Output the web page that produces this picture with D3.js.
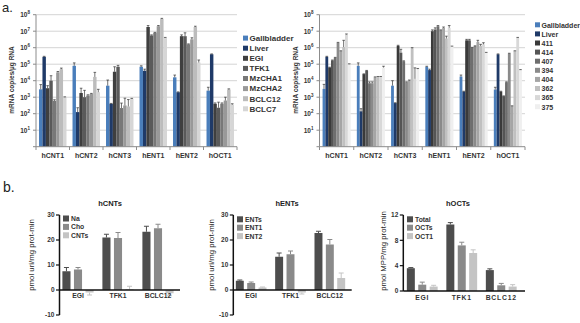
<!DOCTYPE html>
<html><head><meta charset="utf-8">
<script src="https://cdn.jsdelivr.net/npm/d3@7"></script>
<style>body{margin:0;background:#fff} svg{display:block;font-family:"Liberation Sans",Arial,sans-serif}</style>
</head><body><svg id="c" width="580" height="323"></svg>
<script>
// ---------- Panel a data ----------
const catsA = ["hCNT1","hCNT2","hCNT3","hENT1","hENT2","hOCT1"];
const decadeTicks = [1,10,100,1e3,1e4,1e5,1e6,1e7,1e8];

const seriesA1 = ["Gallbladder","Liver","EGI","TFK1","MzCHA1","MzCHA2","BCLC12","BCLC7"];
const colorsA1 = ["#4a7ebb","#1f3a68","#3f3f3f","#5a5a5a","#787878","#999999","#bcbcbc","#d6d6d6"];
const gallbladderA1 = [3000, 8e4, 5e3, 7e4, 1.6e4, 2.5e3];
const liverA1 = [2.8e5, 125, 400, 4e4, 2e3, 4e5];
const egiA1 = [3.5e3, 1.8e3, 3.5e4, 1.8e7, 5e6, 400];
const tfk1A1 = [1e4, 1e3, 7e4, 5.5e6, 5e6, 230];
const mzcha1A1 = [600, 1.26e3, 220, 8e6, 1.6e6, 400];
const mzcha2A1 = [3.2e4, 1.6e3, 316, 2e7, 3.2e6, 630];
const bclc12A1 = [5e4, 1.7e4, 275, 5.5e7, 1.8e7, 2.9e3];
const bclc7A1 = [1e3, 2e3, 800, 4e6, 1.26e5, 350];
const valuesA1 = [gallbladderA1, liverA1, egiA1, tfk1A1, mzcha1A1, mzcha2A1, bclc12A1, bclc7A1];
const errorsA1 = [
  [5.8e3, 1.2e5, 1.1e4, 8e4, 2.2e4, 4e3],
  [3e5, 230, 420, 5e4, 2.1e3, 4.2e5],
  [5e3, 3.5e3, 7e4, 2.2e7, 6e6, 450],
  [2e4, 2.6e3, 8.5e4, 6e6, 8e6, 500],
  [700, 1.4e3, 440, 8.5e6, 1.7e6, 450],
  [3.6e4, 1.7e3, 870, 2.2e7, 4e6, 1000],
  [5.8e4, 3.2e4, 720, 6e7, 2e7, 3.2e3],
  [1.05e3, 3e3, 850, 4.2e6, 1.8e5, 400]
];

const seriesA2 = ["Gallbladder","Liver","411","414","407","394","404","362","365","375"];
const colorsA2 = ["#4a7ebb","#1f3a68","#3a3a3a","#555555","#6e6e6e","#8a8a8a","#a5a5a5","#c0c0c0","#d8d8d8","#efefef"];
const valuesA2 = [
  [3.2e3, 8e4, 5e3, 7e4, 1.8e4, 2.9e3],
  [2.8e5, 140, 440, 4.4e4, 2.2e3, 4e5],
  [6.3e4, 2.5e4, 1.3e6, 1e7, 2.8e6, 2.2e3],
  [1.7e5, 4e4, 5e5, 1.26e7, 2.8e6, 1.15e3],
  [2.5e5, 7e3, 1.5e5, 2e7, 1e6, 8e3],
  [2e6, 7e3, 8e3, 1.15e7, 1.26e6, 4.4e5],
  [6.3e5, 1.6e4, 1e4, 1.6e7, 2.2e6, 290],
  [1.1e6, 1.7e4, 9e5, 3.6e6, 1.26e6, 6.3e5],
  [6.3e6, 1.7e4, 1.3e4, 1.6e7, 1.6e6, 4e6],
  [1e5, 6.3e4, 5e4, 1.2e6, 5e5, 4.5e4]
];
const errorsA2 = [
  [6e3, 1.2e5, 1e4, 7.5e4, 2.2e4, 4e3],
  [3e5, 200, 460, 5e4, 2.3e3, 4.2e5],
  [6.6e4, 2.6e4, 1.4e6, 1.2e7, 3.2e6, 2.3e3],
  [1.8e5, 4.2e4, 8e5, 1.6e7, 3.2e6, 1.2e3],
  [2.6e5, 8.5e3, 1.6e5, 2.2e7, 1.05e6, 8.5e3],
  [2.1e6, 8.5e3, 8.5e3, 1.2e7, 1.3e6, 4.6e5],
  [6.5e5, 1.7e4, 1.1e4, 1.8e7, 2.8e6, 300],
  [2.8e6, 1.8e4, 1e6, 5e6, 1.6e6, 6.5e5],
  [6.8e6, 1.8e4, 6e4, 2.2e7, 2e6, 4.2e6],
  [1.05e5, 7.5e4, 5.5e4, 1.25e6, 5.2e5, 4.7e4]
];

// ---------- Panel b data ----------
const catsB = ["EGI","TFK1","BCLC12"];
const colorsB = ["#4d4d4d","#8a8a8a","#c4c4c4"];
const seriesCNT = ["Na","Cho","CNTs"];
const valCNT = [[7.5,21,23.3],[8.2,20.8,24.7],[-1,0.3,-1.3]];
const errCNT = [[9,22.3,25.5],[9,23,26.3],[-2,1.5,-2.3]];
const seriesENT = ["ENTs","ENT1","ENT2"];
const valENT = [[3.7,13.3,22.8],[2.8,14.3,18.2],[1,-1,4.8]];
const errENT = [[4,14.8,23.5],[3.2,15.6,20.2],[1.2,-1.6,6.8]];
const seriesOCT = ["Total","OCTs","OCT1"];
const valOCT = [[3.6,10.5,3.3],[1.0,7.2,0.9],[0.7,6.0,0.7]];
const errOCT = [[3.7,10.8,3.5],[1.4,7.7,1.2],[0.9,6.5,1.0]];
const ticksCE = [-10,0,10,20,30];
const ticksOCT = [0,4,8,12];

const svg = d3.select("#c");
svg.append("rect").attr("width",580).attr("height",323).attr("fill","#fff");

svg.append("text").attr("x",2).attr("y",12).attr("font-size",13).attr("fill","#222").text("a.");
svg.append("text").attr("x",3).attr("y",192).attr("font-size",14).attr("fill","#222").text("b.");

function logChart(cfg){
  const g = svg.append("g");
  const y = d3.scaleLog().domain([1,1e8]).range([146.7,14.7]);
  const x = d3.scaleBand().domain(catsA).range([cfg.x0,cfg.x1]).paddingInner(0.18).paddingOuter(0.09);
  const xs = d3.scaleBand().domain(cfg.series).range([0,x.bandwidth()]);
  g.selectAll("line.grid").data(decadeTicks.slice(1)).join("line")
    .attr("x1",cfg.x0).attr("x2",cfg.x1).attr("y1",d=>y(d)).attr("y2",d=>y(d))
    .attr("stroke","#d4d4d4").attr("stroke-width",1);
  cfg.series.forEach((s,si)=>{
    g.selectAll(null).data(cfg.values[si]).join("rect")
      .attr("x",(d,i)=>x(catsA[i])+xs(s)).attr("width",xs.bandwidth())
      .attr("y",d=>y(d)).attr("height",d=>y(1)-y(d)).attr("fill",cfg.colors[si]);
  });
  cfg.series.forEach((s,si)=>{
    cfg.errors[si].forEach((e,i)=>{
      const v = cfg.values[si][i];
      const cx = x(catsA[i])+xs(s)+xs.bandwidth()/2;
      g.append("line").attr("x1",cx).attr("x2",cx).attr("y1",y(v)).attr("y2",y(e)).attr("stroke","#333").attr("stroke-width",0.7);
      g.append("line").attr("x1",cx-1.3).attr("x2",cx+1.3).attr("y1",y(e)).attr("y2",y(e)).attr("stroke","#333").attr("stroke-width",0.7);
    });
  });
  g.append("line").attr("x1",cfg.x0).attr("x2",cfg.x0).attr("y1",14.7).attr("y2",146.7).attr("stroke","#8c8c8c");
  g.append("line").attr("x1",cfg.x0).attr("x2",cfg.x1).attr("y1",146.7).attr("y2",146.7).attr("stroke","#8c8c8c");
  g.selectAll("line.yt").data(decadeTicks).join("line")
    .attr("x1",cfg.x0-3).attr("x2",cfg.x0).attr("y1",d=>y(d)).attr("y2",d=>y(d)).attr("stroke","#8c8c8c");
  const bounds = catsA.map(c=>x(c)-x.step()*0.09).concat([cfg.x1]);
  g.selectAll("line.xt").data(bounds).join("line")
    .attr("x1",d=>d).attr("x2",d=>d).attr("y1",146.7).attr("y2",150).attr("stroke","#8c8c8c");
  decadeTicks.forEach((d,k)=>{
    if(k===0) return;
    const t = g.append("text").attr("x",cfg.x0-6).attr("y",y(d)+2.3).attr("text-anchor","end")
      .attr("font-size",6.5).attr("font-weight","bold").attr("fill","#333");
    t.append("tspan").text("10");
    t.append("tspan").attr("dy",-2.6).attr("font-size",4.5).text(String(k));
  });
  g.selectAll("text.cat").data(catsA).join("text")
    .attr("x",d=>x(d)+x.bandwidth()/2).attr("y",157.5).attr("text-anchor","middle")
    .attr("font-size",7).attr("font-weight","bold").attr("fill","#333").text(d=>d);
  g.append("text").attr("transform",`translate(${cfg.ylx},80) rotate(-90)`).attr("text-anchor","middle")
    .attr("font-size",6.5).attr("font-weight","bold").attr("fill","#333").text("mRNA copies/µg RNA");
  cfg.series.forEach((s,si)=>{
    const ly = cfg.ly0 + si*cfg.lstep;
    g.append("rect").attr("x",cfg.lx).attr("y",ly-2.7).attr("width",5).attr("height",5).attr("fill",cfg.colors[si]);
    g.append("text").attr("x",cfg.lx+6.5).attr("y",ly+2.6).attr("font-size",cfg.lfs).attr("font-weight","bold").attr("fill","#333").text(s);
  });
}

logChart({x0:36,x1:237,series:seriesA1,colors:colorsA1,values:valuesA1,errors:errorsA1,ylx:14,lx:243,ly0:38.3,lstep:10.1,lfs:8});
logChart({x0:319.5,x1:525,series:seriesA2,colors:colorsA2,values:valuesA2,errors:errorsA2,ylx:298,lx:535,ly0:25,lstep:9.1,lfs:7});

function barPanel(cfg){
  const g = svg.append("g");
  const y = d3.scaleLinear().domain(cfg.ydom).range(cfg.yr);
  const x = d3.scaleBand().domain(catsB).range(cfg.gr).paddingInner(0.22).paddingOuter(0.11);
  const xs = d3.scaleBand().domain(cfg.series).range([0,x.bandwidth()]).paddingInner(0.3);
  cfg.series.forEach((s,si)=>{
    g.selectAll(null).data(cfg.values[si]).join("rect")
      .attr("x",(d,i)=>x(catsB[i])+xs(s)).attr("width",xs.bandwidth())
      .attr("y",d=>Math.min(y(d),y(0))).attr("height",d=>Math.abs(y(d)-y(0))).attr("fill",colorsB[si]);
    cfg.errors[si].forEach((e,i)=>{
      const v = cfg.values[si][i];
      const cx = x(catsB[i])+xs(s)+xs.bandwidth()/2;
      g.append("line").attr("x1",cx).attr("x2",cx).attr("y1",y(v)).attr("y2",y(e)).attr("stroke",colorsB[si]).attr("stroke-width",1);
      g.append("line").attr("x1",cx-2.5).attr("x2",cx+2.5).attr("y1",y(e)).attr("y2",y(e)).attr("stroke",colorsB[si]).attr("stroke-width",1);
    });
  });
  g.append("line").attr("x1",cfg.ax).attr("x2",cfg.ax).attr("y1",cfg.yr[1]).attr("y2",cfg.yr[0]).attr("stroke","#111").attr("stroke-width",1.5);
  g.append("line").attr("x1",cfg.ax).attr("x2",cfg.xend).attr("y1",y(0)).attr("y2",y(0)).attr("stroke","#111").attr("stroke-width",1.5);
  g.selectAll("line.yt").data(cfg.ticks).join("line")
    .attr("x1",cfg.ax-3.5).attr("x2",cfg.ax).attr("y1",d=>y(d)).attr("y2",d=>y(d)).attr("stroke","#111").attr("stroke-width",1.2);
  g.selectAll("text.yt").data(cfg.ticks).join("text")
    .attr("x",cfg.ax-5).attr("y",d=>y(d)+2.3).attr("text-anchor","end").attr("font-size",6.5)
    .attr("font-weight","bold").attr("fill","#333").text(d=>d);
  g.selectAll("text.cat").data(catsB).join("text")
    .attr("x",d=>x(d)+x.bandwidth()/2).attr("y",cfg.caty).attr("text-anchor","middle").attr("font-size",6.8)
    .attr("letter-spacing",cfg.ls||0).attr("font-weight","bold").attr("fill","#333").text(d=>d);
  g.append("text").attr("x",cfg.tx).attr("y",205.5).attr("text-anchor","middle").attr("font-size",7.5)
    .attr("font-weight","bold").attr("fill","#222").text(cfg.title);
  g.append("text").attr("transform",`translate(${cfg.ylx},${cfg.yly}) rotate(-90)`).attr("text-anchor","middle")
    .attr("font-size",cfg.ylfs).attr("fill","#222").text(cfg.ylabel);
  cfg.series.forEach((s,si)=>{
    const ly = cfg.ly0 + si*8.4;
    g.append("rect").attr("x",cfg.lx).attr("y",ly-3).attr("width",6).attr("height",6).attr("fill",colorsB[si]);
    g.append("text").attr("x",cfg.lx+8).attr("y",ly+2.4).attr("font-size",6.8).attr("font-weight","bold").attr("fill","#333").text(s);
  });
}

barPanel({ydom:[-10,30],yr:[315,215],gr:[58,178],ax:59.5,xend:180,series:seriesCNT,values:valCNT,errors:errCNT,
  ticks:ticksCE,caty:298,tx:110,title:"hCNTs",ylx:34,yly:255,ylfs:7.8,ylabel:"pmol uri/mg prot-min",lx:63,ly0:218.5});
barPanel({ydom:[-10,30],yr:[315,215],gr:[231.5,349.5],ax:233.3,xend:351.7,series:seriesENT,values:valENT,errors:errENT,
  ticks:ticksCE,caty:298,tx:287,title:"hENTs",ylx:214,yly:255,ylfs:7.8,ylabel:"pmol uri/mg prot-min",lx:237,ly0:219.3});
barPanel({ydom:[0,12],yr:[291,215],gr:[402.5,521],ax:403.3,xend:525,series:seriesOCT,values:valOCT,errors:errOCT,
  ticks:ticksOCT,caty:299.5,tx:458,title:"hOCTs",ylx:386,yly:251,ylfs:7.8,ylabel:"pmol MPP/mg prot-min",lx:407,ly0:219.3,ls:0.8});
</script>
</body></html>
